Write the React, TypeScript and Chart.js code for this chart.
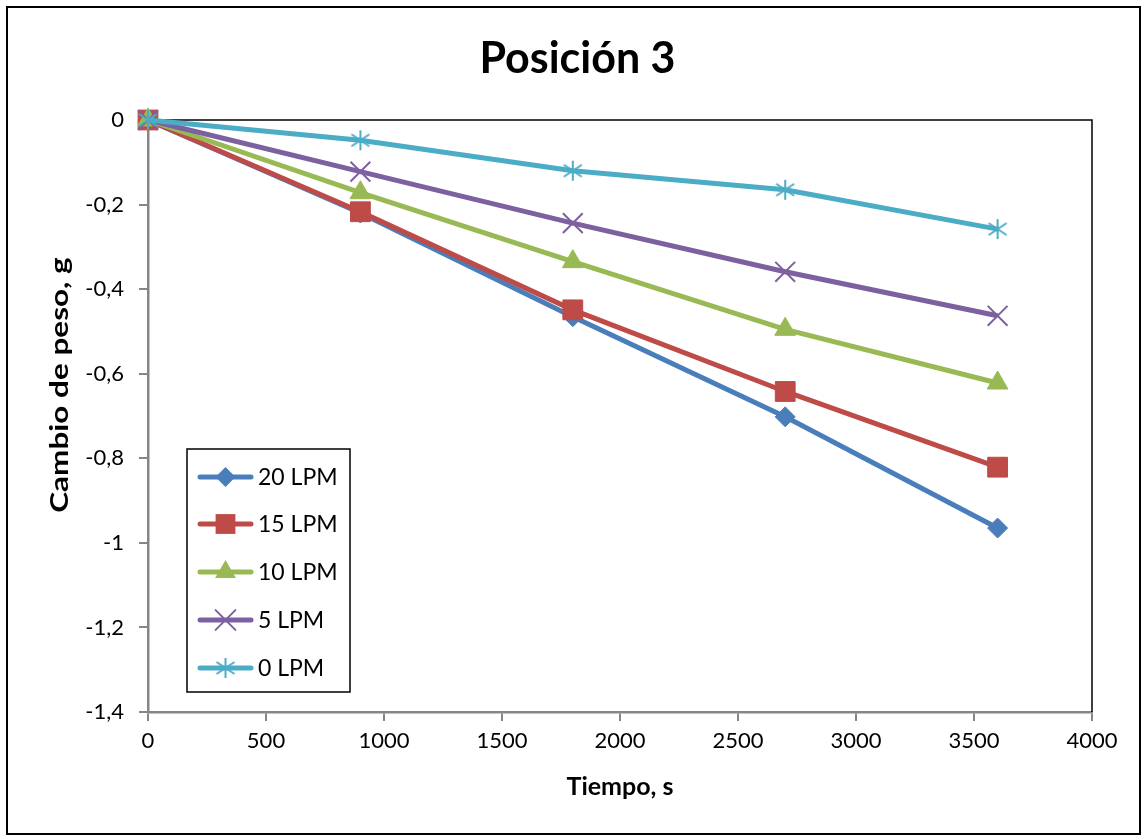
import React, { useEffect, useRef } from 'react';
import { Chart, registerables } from 'chart.js';

Chart.register(...registerables);

// ---- data ----
const timeSeconds = [0, 900, 1800, 2700, 3600];
const seriesLabels = ['20 LPM', '15 LPM', '10 LPM', '5 LPM', '0 LPM'];
const lpm20 = [0, -0.22, -0.465, -0.702, -0.965];
const lpm15 = [0, -0.217, -0.449, -0.642, -0.821];
const lpm10 = [0, -0.172, -0.335, -0.495, -0.622];
const lpm5 = [0, -0.122, -0.244, -0.359, -0.463];
const lpm0 = [0, -0.048, -0.12, -0.165, -0.258];
const xTickValues = [0, 500, 1000, 1500, 2000, 2500, 3000, 3500, 4000];
const yTickValues = [0, -0.2, -0.4, -0.6, -0.8, -1, -1.2, -1.4];
const chartTitle = 'Posición 3';
const xTitle = 'Tiempo, s';
const yTitle = 'Cambio de peso, g';

const seriesValues = [lpm20, lpm15, lpm10, lpm5, lpm0];
const seriesColors = ['#4A7EBB', '#BE4B48', '#98B954', '#7D60A0', '#4BACC6'];
const FONT = 'Lato';

function makeAsterisk(color: string): HTMLCanvasElement {
  const c = document.createElement('canvas');
  c.width = 22;
  c.height = 22;
  const ctx = c.getContext('2d')!;
  ctx.strokeStyle = color;
  ctx.lineWidth = 2;
  ctx.lineCap = 'butt';
  ctx.beginPath();
  ctx.moveTo(11, 1);
  ctx.lineTo(11, 21);
  ctx.moveTo(2, 5);
  ctx.lineTo(20, 17);
  ctx.moveTo(2, 17);
  ctx.lineTo(20, 5);
  ctx.stroke();
  return c;
}

function drawMarker(ctx: CanvasRenderingContext2D, style: any, x: number, y: number, r: number, color: string) {
  ctx.save();
  ctx.fillStyle = color;
  ctx.strokeStyle = color;
  ctx.lineWidth = 2;
  if (style instanceof HTMLCanvasElement) {
    ctx.drawImage(style, x - style.width / 2, y - style.height / 2);
  } else if (style === 'rectRot') {
    ctx.beginPath();
    ctx.moveTo(x - r, y);
    ctx.lineTo(x, y - r);
    ctx.lineTo(x + r, y);
    ctx.lineTo(x, y + r);
    ctx.closePath();
    ctx.fill();
  } else if (style === 'rect') {
    const s = Math.SQRT1_2 * r;
    ctx.fillRect(x - s, y - s, 2 * s, 2 * s);
  } else if (style === 'triangle') {
    ctx.beginPath();
    for (let k = 0; k < 3; k++) {
      const a = (k * 2 * Math.PI) / 3;
      const px = x + Math.sin(a) * r;
      const py = y - Math.cos(a) * r;
      if (k === 0) ctx.moveTo(px, py);
      else ctx.lineTo(px, py);
    }
    ctx.closePath();
    ctx.fill();
  } else if (style === 'crossRot') {
    const o = Math.SQRT1_2 * r;
    ctx.beginPath();
    ctx.moveTo(x - o, y - o);
    ctx.lineTo(x + o, y + o);
    ctx.moveTo(x - o, y + o);
    ctx.lineTo(x + o, y - o);
    ctx.stroke();
  }
  ctx.restore();
}

const framePlugin = {
  id: 'framePlugin',
  beforeDatasetsDraw(chart: any) {
    const { ctx, chartArea } = chart;
    ctx.save();
    ctx.strokeStyle = '#000000';
    ctx.lineWidth = 1.5;
    ctx.beginPath();
    ctx.moveTo(chartArea.left, chartArea.top);
    ctx.lineTo(chartArea.right, chartArea.top);
    ctx.lineTo(chartArea.right, chartArea.bottom);
    ctx.stroke();
    ctx.restore();
  },
  afterDraw(chart: any) {
    const { ctx } = chart;
    ctx.save();
    // outer chart border
    ctx.strokeStyle = '#000000';
    ctx.lineWidth = 2;
    ctx.strokeRect(7, 7, 1133, 827);
    // y axis title
    ctx.fillStyle = '#000000';
    ctx.font = `bold 25px ${FONT}`;
    ctx.textAlign = 'center';
    ctx.textBaseline = 'middle';
    ctx.translate(60, 385);
    ctx.rotate(-Math.PI / 2);
    ctx.scale(1.26, 1);
    ctx.fillText(yTitle, 0, 0);
    ctx.restore();
  },
};

const legendPlugin = {
  id: 'boxLegend',
  afterDraw(chart: any) {
    const { ctx } = chart;
    const left = 187;
    const top = 449;
    const width = 163;
    const height = 243;
    ctx.save();
    ctx.fillStyle = '#ffffff';
    ctx.fillRect(left, top, width, height);
    ctx.strokeStyle = '#000000';
    ctx.lineWidth = 1.5;
    ctx.strokeRect(left, top, width, height);
    const rows = [477, 524, 572, 620, 668];
    chart.data.datasets.forEach((ds: any, i: number) => {
      const y = rows[i];
      ctx.strokeStyle = ds.borderColor;
      ctx.lineWidth = 5;
      ctx.lineCap = 'round';
      ctx.beginPath();
      ctx.moveTo(200, y);
      ctx.lineTo(251, y);
      ctx.stroke();
      drawMarker(ctx, ds.pointStyle, 225.5, y, ds.pointRadius, ds.borderColor);
      ctx.fillStyle = '#000000';
      ctx.font = `23px ${FONT}`;
      ctx.textAlign = 'left';
      ctx.textBaseline = 'middle';
      ctx.fillText(ds.label, 258, y + 1);
    });
    ctx.restore();
  },
};

function fmt(v: number): string {
  const r = Math.round(v * 10) / 10;
  return (r === 0 ? '0' : String(r)).replace('.', ',');
}

export default function App() {
  const canvasRef = useRef<HTMLCanvasElement | null>(null);

  useEffect(() => {
    if (!canvasRef.current) return;
    const pointStyles: any[] = ['rectRot', 'rect', 'triangle', 'crossRot', makeAsterisk(seriesColors[4])];
    const pointRadii = [10, 14, 12, 14, 10];
    const datasets = seriesLabels.map((label, i) => ({
      label,
      data: timeSeconds.map((t, j) => ({ x: t, y: seriesValues[i][j] })),
      borderColor: seriesColors[i],
      backgroundColor: seriesColors[i],
      borderWidth: 5,
      pointStyle: pointStyles[i],
      pointRadius: pointRadii[i],
      pointHoverRadius: pointRadii[i],
      pointBorderWidth: i >= 3 ? 2 : 1,
      pointBackgroundColor: seriesColors[i],
      pointBorderColor: seriesColors[i],
      tension: 0,
      fill: false,
      clip: false,
      order: seriesLabels.length - i,
    }));

    const chart = new Chart(canvasRef.current, {
      type: 'line',
      data: { datasets },
      plugins: [framePlugin, legendPlugin],
      options: {
        responsive: false,
        animation: false,
        devicePixelRatio: 1,
        layout: { padding: { left: 12, right: 0, top: 0, bottom: 0 } },
        plugins: {
          legend: { display: false },
          tooltip: { enabled: false },
          title: {
            display: true,
            text: chartTitle,
            color: '#000000',
            font: { family: FONT, size: 43, weight: 'bold', lineHeight: 1.2 },
            padding: { top: 33, bottom: 35.4 },
          },
        },
        scales: {
          x: {
            type: 'linear',
            min: xTickValues[0],
            max: xTickValues[xTickValues.length - 1],
            afterFit: (s: any) => { s.height = 125; },
            afterBuildTicks: (s: any) => { s.ticks = xTickValues.map((v) => ({ value: v })); },
            ticks: {
              color: '#000000',
              font: { family: FONT, size: 22 },
              padding: 7,
              maxRotation: 0,
              autoSkip: false,
              callback: (v: any) => String(v),
            },
            grid: { drawOnChartArea: false, drawTicks: true, tickLength: 9, color: '#868686', lineWidth: 2 },
            border: { display: true, color: '#868686', width: 2.5 },
            title: {
              display: true,
              text: xTitle,
              color: '#000000',
              font: { family: FONT, size: 25, weight: 'bold', lineHeight: 1.2 },
              padding: { top: 0, bottom: 35 },
            },
          },
          y: {
            type: 'linear',
            position: 'left',
            min: yTickValues[yTickValues.length - 1],
            max: yTickValues[0],
            afterFit: (s: any) => { s.width = 136; },
            afterBuildTicks: (s: any) => { s.ticks = yTickValues.map((v) => ({ value: v })); },
            ticks: {
              color: '#000000',
              font: { family: FONT, size: 22 },
              padding: 15,
              autoSkip: false,
              callback: (v: any) => fmt(Number(v)),
            },
            grid: { drawOnChartArea: false, drawTicks: true, tickLength: 9, color: '#868686', lineWidth: 2 },
            border: { display: true, color: '#868686', width: 2.5 },
            title: { display: false },
          },
          yRightSpacer: {
            type: 'linear',
            position: 'right',
            display: true,
            afterFit: (s: any) => { s.width = 51; },
            ticks: { display: false },
            grid: { display: false, drawTicks: false },
            border: { display: false },
            title: { display: false },
          },
        },
      } as any,
    });

    return () => {
      chart.destroy();
    };
  }, []);

  return (
    <div style={{ position: 'absolute', left: 0, top: 0, width: 1143, height: 837, background: '#ffffff' }}>
      <canvas ref={canvasRef} width={1143} height={837} style={{ display: 'block', width: 1143, height: 837 }} />
    </div>
  );
}
